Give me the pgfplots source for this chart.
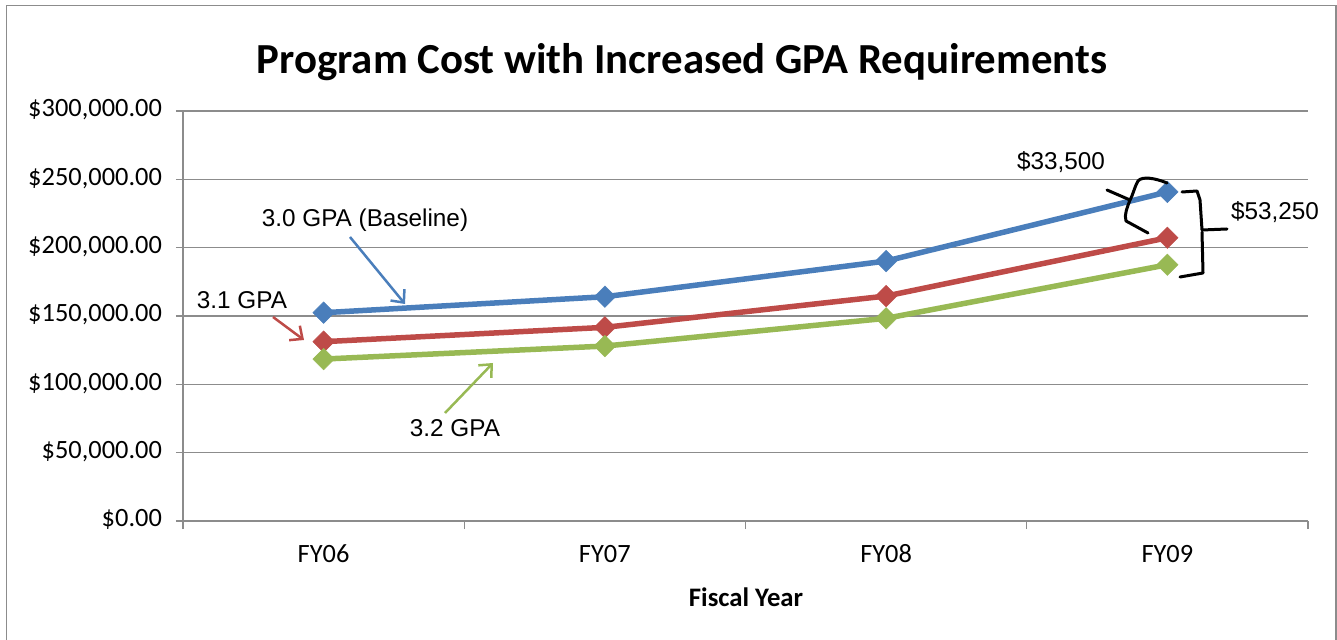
\documentclass[border=0pt]{standalone}
\usepackage{pgfplots}
\pgfplotsset{compat=1.18}
\usepackage{fontspec}
\setmainfont{Carlito}
\newfontfamily\arial{Liberation Sans}
\usetikzlibrary{arrows.meta}
\definecolor{sblue}{HTML}{4A7EBB}
\definecolor{sred}{HTML}{BE4B48}
\definecolor{sgreen}{HTML}{98B954}
\definecolor{fgray}{HTML}{8C8C8C}
\begin{document}
\begin{tikzpicture}
\path[use as bounding box] (0,0) rectangle (1337bp,640bp);
\draw[fgray, line width=1.8bp] (6.5bp,-5bp) -- (6.5bp,634.5bp) -- (1335.8bp,634.5bp) -- (1335.8bp,-5bp);
\begin{axis}[
  at={(183bp,119bp)}, anchor=south west,
  scale only axis, width=1125bp, height=410bp,
  xmin=-0.5, xmax=3.5, ymin=0, ymax=300000,
  axis x line*=bottom, axis y line*=left,
  axis line style={fgray, line width=1.6bp},
  ytick={0,50000,100000,150000,200000,250000,300000},
  yticklabels={{\$0.00},{\$50,000.00},{\$100,000.00},{\$150,000.00},{\$200,000.00},{\$250,000.00},{\$300,000.00}},
  ymajorgrids, grid style={fgray, line width=1.4bp},
  xtick={0,1,2,3}, xticklabels={FY06,FY07,FY08,FY09},
  major x tick style={draw=none},
  minor xtick={-0.5,0.5,1.5,2.5,3.5},
  tick align=outside,
  major tick length=7bp, minor tick length=8bp,
  every tick/.style={fgray, line width=1.2bp},
  minor x tick style={fgray, line width=1.2bp},
  scaled y ticks=false,
  typeset ticklabels with strut,
  ticklabel style={font=\fontsize{26.5}{30}\selectfont, text=black},
  yticklabel style={xshift=-8bp},
  xticklabel style={yshift=-8bp},
  clip=false,
  line width=5.5bp,
  mark size=7.6bp,
]
\addplot[sblue, mark=square*, mark options={rotate=45, solid, line width=0.5bp}] coordinates {(0,152400)(1,164100)(2,190200)(3,240750)};
\addplot[sred, mark=square*, mark options={rotate=45, solid, line width=0.5bp}] coordinates {(0,131200)(1,141700)(2,164600)(3,207250)};
\addplot[sgreen, mark=square*, mark options={rotate=45, solid, line width=0.5bp}] coordinates {(0,118500)(1,128000)(2,148300)(3,187500)};
\end{axis}
\node[font=\bfseries\fontsize{43}{48}\selectfont] at (682bp,578bp) {Program Cost with Increased GPA Requirements};
\node[font=\bfseries\fontsize{26.8}{30}\selectfont] at (746bp,43bp) {Fiscal Year};
\begin{scope}[font=\arial\fontsize{24.4}{28}\selectfont]
\node at (365bp,420bp) {3.0 GPA (Baseline)};
\node at (242bp,340bp) {3.1 GPA};
\node at (455bp,212bp) {3.2 GPA};
\node at (1061bp,478bp) {\$33,500};
\node at (1275bp,428bp) {\$53,250};
\end{scope}
\draw[sblue, line width=2.5bp, -{Straight Barb[length=10bp,width=18bp]}] (350bp,403bp) -- (405bp,336bp);
\draw[sred, line width=2.5bp, -{Straight Barb[length=10bp,width=18bp]}] (273bp,323bp) -- (304bp,300bp);
\draw[sgreen, line width=2.5bp, -{Straight Barb[length=10bp,width=18bp]}] (445bp,227bp) -- (493bp,277bp);
\draw[black, line width=3bp, line join=round, line cap=round]
  (1167bp,457bp) .. controls (1155bp,462bp) and (1142bp,464bp) .. (1138bp,459bp)
  .. controls (1134bp,452bp) and (1133bp,445bp) .. (1130bp,440bp)
  .. controls (1127bp,432bp) and (1124bp,425bp) .. (1126bp,419bp)
  -- (1148bp,407bp);
\draw[black, line width=3bp, line cap=round] (1107bp,450bp) -- (1130bp,440bp);
\draw[black, line width=3bp, line join=round, line cap=round]
  (1182bp,448bp) -- (1197bp,449bp) -- (1200bp,440bp) -- (1202bp,410bp) -- (1227bp,411bp);
\draw[black, line width=3bp, line join=round, line cap=round]
  (1202bp,408bp) -- (1203bp,367bp) -- (1180bp,363bp);
\end{tikzpicture}
\end{document}
